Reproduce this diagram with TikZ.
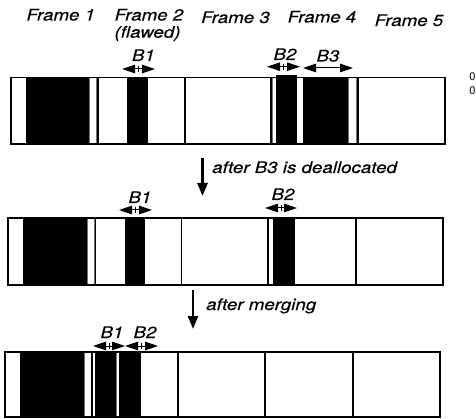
\documentclass[tikz,border=0pt]{standalone}
\usepackage{fontspec}
\usepackage{graphicx}
\setmainfont{TeX Gyre Heros}[ItalicFeatures={FakeBold=0.3}]
\usetikzlibrary{arrows.meta}
\newcommand{\lbtxt}[1]{\scalebox{1.17}[1]{\fontsize{16}{18}\selectfont\itshape #1}}
\tikzset{
  blk/.style={fill=black, draw=none},
  strip/.style={draw=black!55, line width=0.7pt, fill=white},
  frm/.style={draw=black, line width=1.8pt},
  lbl/.style={inner sep=0pt, anchor=base},
  darr/.style={line width=1pt, {Triangle[length=13pt,width=8.5pt]}-{Triangle[length=13pt,width=8.5pt]}},
  tick/.style={line width=0.8pt},
  downarr/.style={line width=2.6pt, -{Triangle[length=13pt,width=10pt]}},
  small/.style={inner sep=0pt, font=\fontsize{11}{12}\selectfont}
}
\begin{document}
\begin{tikzpicture}[x=1pt,y=-1pt]
\useasboundingbox (0,0) rectangle (476,419);

% ---------- Row 1 ----------
\def\T{77.5}\def\B{144}
\draw[strip] (11,\T) rectangle (26,\B);
\fill[blk] (26,\T) rectangle (89,\B);
\draw[strip] (89,\T) rectangle (96.5,\B);
\fill[blk] (127,\T) rectangle (148,\B);
\draw[strip] (272,\T) rectangle (276,\B);
\fill[blk] (276,75.5) rectangle (297,\B);
\fill[blk] (303,\T) rectangle (348,\B);
\draw[strip] (348,\T) rectangle (356.5,\B);
\foreach \x in {97.8,184.6,271.2,358.2} \draw[frm] (\x,\T) -- (\x,\B);
\draw[frm] (11,\T) rectangle (445,\B);

% ---------- Row 2 ----------
\def\T{218.3}\def\B{285}
\draw[strip] (8.3,\T) rectangle (23.3,\B);
\fill[blk] (23.3,\T) rectangle (87.3,\B);
\draw[strip] (87.3,\T) rectangle (94.3,\B);
\fill[blk] (125,\T) rectangle (145.3,\B);
\draw[strip] (268.8,\T) rectangle (273,\B);
\fill[blk] (273,\T) rectangle (295,\B);
\foreach \x in {95.5,181.5,267.8,355.8} \draw[frm] (\x,\T) -- (\x,\B);
\draw[frm] (8.3,\T) rectangle (443,\B);

% ---------- Row 3 ----------
\def\T{351.7}\def\B{417}
\draw[strip] (5.3,\T) rectangle (20,\B);
\fill[blk] (20,\T) rectangle (84,\B);
\draw[strip] (84,\T) rectangle (91,\B);
\draw[strip] (92,\T) rectangle (95,\B);
\fill[blk] (95,\T) rectangle (116,\B);
\draw[strip] (116,\T) rectangle (119,\B);
\fill[blk] (119,\T) rectangle (141,\B);
\foreach \x in {92,178.3,265,352.7} \draw[frm] (\x,\T) -- (\x,\B);
\draw[frm] (5.3,\T) rectangle (440,\B);

% ---------- Frame labels ----------
\node[lbl] (f1) at (60.8,20.5) {\lbtxt{Frame 1}};
\node[lbl] (f2) at (149,20.5) {\lbtxt{Frame 2}};
\node[lbl] (fl) at (147.5,37.7) {\lbtxt{(flawed)}};
\node[lbl] (f3) at (235.5,23) {\lbtxt{Frame 3}};
\node[lbl] (f4) at (322,22.5) {\lbtxt{Frame 4}};
\node[lbl] (f5) at (409,26) {\lbtxt{Frame 5}};

\node[small] (z1) at (472.5,77) {0};
\node[small] (z2) at (472.5,90.5) {0};

% ---------- Block labels and arrows, row 1 ----------
\node[lbl] (r1b1) at (143.5,61) {\lbtxt{B1}};
\node[lbl] (r1b2) at (285,60) {\lbtxt{B2}};
\node[lbl] (r1b3) at (328,61.5) {\lbtxt{B3}};
\coordinate (a1l) at (122,69); \coordinate (a1r) at (155,69); \coordinate (a1c) at (138.5,69);
\coordinate (a2l) at (267,66.7); \coordinate (a2r) at (300,66.7); \coordinate (a2c) at (283.5,66.7);
\coordinate (a3l) at (303,68); \coordinate (a3r) at (353,68);
\draw[darr] (a1l) -- (a1r);
\draw[tick] ([yshift=-3pt]a1c) -- ([yshift=3pt]a1c);
\draw[darr] (a2l) -- (a2r);
\draw[tick] ([yshift=-3pt]a2c) -- ([yshift=3pt]a2c);
\draw[darr] (a3l) -- (a3r);

% ---------- Transition 1 ----------
\coordinate (d1s) at (202.5,158); \coordinate (d1e) at (202.5,196);
\draw[downarr] (d1s) -- (d1e);
\node[inner sep=0pt, anchor=base west] (t1) at (212,173) {\lbtxt{after B3 is deallocated}};

% ---------- Row 2 labels ----------
\node[lbl] (r2b1) at (140,203) {\lbtxt{B1}};
\node[lbl] (r2b2) at (283,200) {\lbtxt{B2}};
\coordinate (b1l) at (119,210); \coordinate (b1r) at (152,210); \coordinate (b1c) at (135.5,210);
\coordinate (b2l) at (265,208); \coordinate (b2r) at (297,208); \coordinate (b2c) at (281,208);
\draw[darr] (b1l) -- (b1r);
\draw[tick] ([yshift=-3pt]b1c) -- ([yshift=3pt]b1c);
\draw[darr] (b2l) -- (b2r);
\draw[tick] ([yshift=-3pt]b2c) -- ([yshift=3pt]b2c);

% ---------- Transition 2 ----------
\coordinate (d2s) at (193,290); \coordinate (d2e) at (193,329);
\draw[downarr] (d2s) -- (d2e);
\node[inner sep=0pt, anchor=base west] (t2) at (206,310) {\lbtxt{after merging}};

% ---------- Row 3 labels ----------
\node[lbl] (r3b1) at (112,338) {\lbtxt{B1}};
\node[lbl] (r3b2) at (145,338) {\lbtxt{B2}};
\coordinate (c1l) at (93,346); \coordinate (c1r) at (125,346); \coordinate (c1c) at (109,346);
\coordinate (c2l) at (125,346); \coordinate (c2r) at (158,346); \coordinate (c2c) at (141.5,346);
\draw[darr] (c1l) -- (c1r);
\draw[tick] ([yshift=-3pt]c1c) -- ([yshift=3pt]c1c);
\draw[darr] (c2l) -- (c2r);
\draw[tick] ([yshift=-3pt]c2c) -- ([yshift=3pt]c2c);
\end{tikzpicture}
\end{document}
